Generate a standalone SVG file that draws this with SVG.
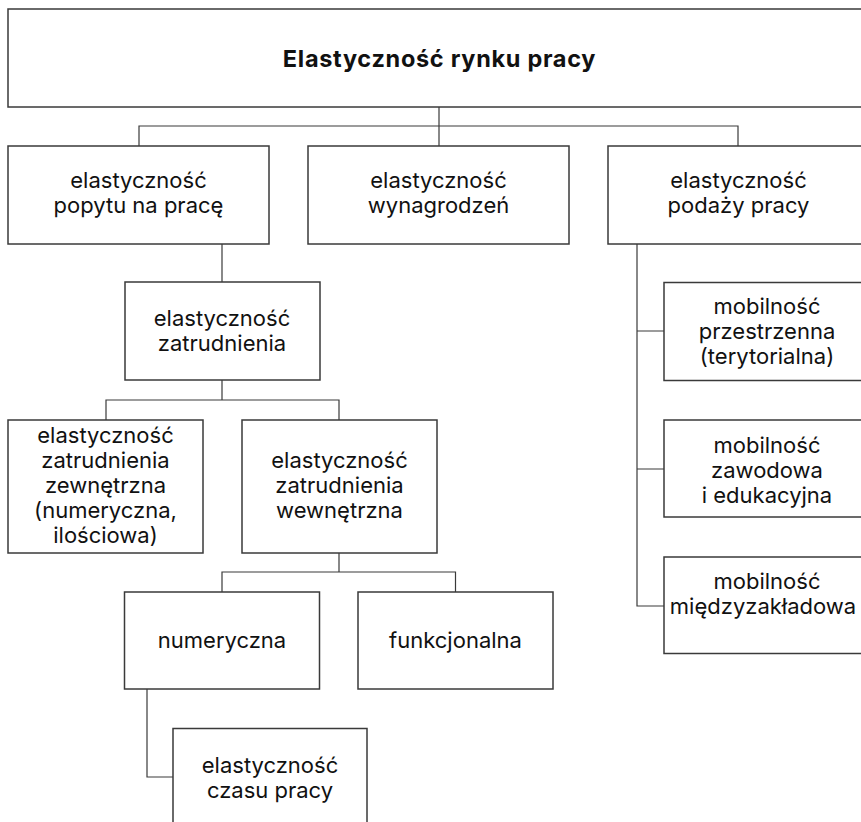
<svg xmlns="http://www.w3.org/2000/svg" width="861" height="822" viewBox="0 0 861 822">
<style>
.box{fill:#fff;stroke:#3a3a3a;stroke-width:1.5}
.con{fill:none;stroke:#3a3a3a;stroke-width:1.2}
text{font-family:Inter,Roboto,"Liberation Sans",sans-serif;font-size:22px;fill:#111;text-anchor:middle}
.title{font-weight:bold;font-size:23.5px;letter-spacing:0.7px}
</style>
<rect width="861" height="822" fill="#fff"/>
<g id="connectors">
<path class="con" d="M439 107V146M139 146V126H738V146"/>
<path class="con" d="M222 244V282"/>
<path class="con" d="M222 380V400M106 420V400H339V420"/>
<path class="con" d="M339 553V572M222 592V572H455.5V592"/>
<path class="con" d="M147 689V777H173"/>
<path class="con" d="M637 244V606H664M637 331H664M637 469H664"/>
</g>
<g id="root"><rect class="box" x="8" y="9" width="862" height="98"/><text class="title" x="439.5" y="67">Elastyczność rynku pracy</text></g>
<g id="popyt"><rect class="box" x="8" y="146" width="261" height="98"/><text x="138.5" y="188">elastyczność</text><text x="138.5" y="213">popytu na pracę</text></g>
<g id="wynagrodzen"><rect class="box" x="308" y="146" width="261" height="98"/><text x="438.5" y="188">elastyczność</text><text x="438.5" y="213">wynagrodzeń</text></g>
<g id="podaz"><rect class="box" x="608" y="146" width="261" height="98"/><text x="738.5" y="188">elastyczność</text><text x="738.5" y="213">podaży pracy</text></g>
<g id="zatrudnienie"><rect class="box" x="125" y="282" width="195" height="98"/><text x="222" y="326">elastyczność</text><text x="222" y="351">zatrudnienia</text></g>
<g id="zewnetrzna"><rect class="box" x="8" y="420" width="195" height="133"/><text x="105.5" y="442.5">elastyczność</text><text x="105.5" y="467.5">zatrudnienia</text><text x="105.5" y="492.5">zewnętrzna</text><text x="105.5" y="517.5">(numeryczna,</text><text x="105.5" y="542.5">ilościowa)</text></g>
<g id="wewnetrzna"><rect class="box" x="242" y="420" width="195" height="133"/><text x="339.5" y="467.5">elastyczność</text><text x="339.5" y="492.5">zatrudnienia</text><text x="339.5" y="517.5">wewnętrzna</text></g>
<g id="numeryczna"><rect class="box" x="124.5" y="592" width="195" height="97"/><text x="222" y="648">numeryczna</text></g>
<g id="funkcjonalna"><rect class="box" x="358" y="592" width="195" height="97"/><text x="455.5" y="648">funkcjonalna</text></g>
<g id="czas"><rect class="box" x="173" y="728.5" width="194" height="98"/><text x="270" y="773">elastyczność</text><text x="270" y="798">czasu pracy</text></g>
<g id="przestrzenna"><rect class="box" x="664" y="282.5" width="206" height="98"/><text x="767" y="314">mobilność</text><text x="767" y="339">przestrzenna</text><text x="767" y="364">(terytorialna)</text></g>
<g id="zawodowa"><rect class="box" x="664" y="420" width="206" height="97"/><text x="767" y="452.5">mobilność</text><text x="767" y="477.5">zawodowa</text><text x="767" y="502.5">i edukacyjna</text></g>
<g id="miedzyzakladowa"><rect class="box" x="664" y="557" width="206" height="96.5"/><text x="767" y="588.5">mobilność</text><text x="763" y="613.5">międzyzakładowa</text></g>
</svg>
